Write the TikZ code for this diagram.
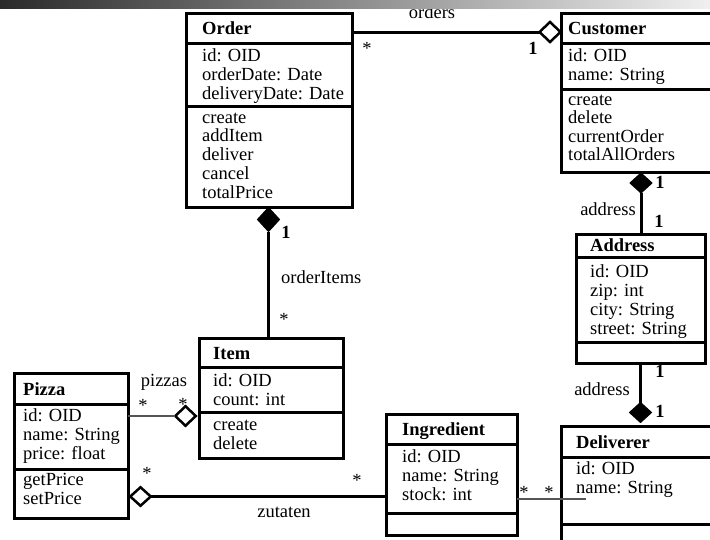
\documentclass[tikz,border=0pt]{standalone}
\usepackage{fontspec}
\setmainfont{Liberation Serif}
\usetikzlibrary{shapes.geometric}
\definecolor{bardark}{HTML}{2A2A2A}
\definecolor{barmid}{HTML}{A0A0A0}
\definecolor{barlight}{HTML}{F0F0F0}
\definecolor{weakline}{HTML}{555555}

\begin{document}
\begin{tikzpicture}[x=1pt,y=-1pt,
  classbox/.style={draw, line width=3pt, outer sep=0pt, inner sep=0pt, anchor=north west},
  sepline/.style={line width=3pt},
  assoc/.style={line width=3pt},
  weak/.style={line width=1.6pt, draw=weakline},
  txt/.style={font=\fontsize{18.5}{18.8}\selectfont, inner sep=0pt, anchor=base west},
  hdr/.style={txt, font=\fontsize{18.5}{18.8}\selectfont\bfseries},
  lbl/.style={font=\fontsize{18.5}{18.8}\selectfont, inner sep=0pt, anchor=base},
  one/.style={lbl, font=\fontsize{18.5}{18.8}\selectfont\bfseries},
  agg/.style={draw, diamond, inner sep=0pt, outer sep=0pt, line width=2.5pt, fill=white},
  comp/.style={draw, diamond, inner sep=0pt, outer sep=0pt, line width=1pt, fill=black},
]
\useasboundingbox (0,0) rectangle (710,539);
\clip (0,0) rectangle (710,539);

% ---------- Order ----------
\node[classbox, minimum width=166pt, minimum height=194pt] (order) at (186,13) {};
\draw[sepline] (186,43) -- (352,43);
\draw[sepline] (186,106) -- (352,106);
\node[hdr] (order-h) at (202,34.5) {Order};
\foreach \entry [count=\i from 0] in {id: OID, orderDate: Date, deliveryDate: Date}
  \node[txt] (order-a\i) at (202,{61+19*\i}) {\entry};
\foreach \entry [count=\i from 0] in {create, addItem, deliver, cancel, totalPrice}
  \node[txt] (order-m\i) at (202,{123+18.75*\i}) {\entry};

% ---------- Customer ----------
\node[classbox, minimum width=170pt, minimum height=159pt] (customer) at (561,13) {};
\draw[sepline] (561,43) -- (731,43);
\draw[sepline] (561,89) -- (731,89);
\node[hdr] (customer-h) at (568,34.5) {Customer};
\foreach \entry [count=\i from 0] in {id: OID, name: String}
  \node[txt] (customer-a\i) at (568,{61+19*\i}) {\entry};
\foreach \entry [count=\i from 0] in {create, delete, currentOrder, totalAllOrders}
  \node[txt] (customer-m\i) at (568,{105+18.6*\i}) {\entry};

% ---------- Address ----------
\node[classbox, minimum width=129pt, minimum height=129pt] (address) at (576,234) {};
\draw[sepline] (576,257) -- (705,257);
\draw[sepline] (576,342) -- (705,342);
\node[hdr] (address-h) at (590,251) {Address};
\foreach \entry [count=\i from 0] in {id: OID, zip: int, city: String, street: String}
  \node[txt] (address-a\i) at (590,{277+19*\i}) {\entry};

% ---------- Item ----------
\node[classbox, minimum width=144pt, minimum height=120pt] (item) at (199,338) {};
\draw[sepline] (199,367) -- (343,367);
\draw[sepline] (199,412) -- (343,412);
\node[hdr] (item-h) at (213,359) {Item};
\foreach \entry [count=\i from 0] in {id: OID, count: int}
  \node[txt] (item-a\i) at (213,{386+19*\i}) {\entry};
\foreach \entry [count=\i from 0] in {create, delete}
  \node[txt] (item-m\i) at (213,{430+19*\i}) {\entry};

% ---------- Pizza ----------
\node[classbox, minimum width=114pt, minimum height=145pt] (pizza) at (14,373) {};
\draw[sepline] (14,404) -- (128,404);
\draw[sepline] (14,469) -- (128,469);
\node[hdr] (pizza-h) at (23,395) {Pizza};
\foreach \entry [count=\i from 0] in {id: OID, name: String, price: float}
  \node[txt] (pizza-a\i) at (23,{421+19*\i}) {\entry};
\foreach \entry [count=\i from 0] in {getPrice, setPrice}
  \node[txt] (pizza-m\i) at (23,{485+19*\i}) {\entry};

% ---------- Ingredient ----------
\node[classbox, minimum width=131pt, minimum height=121pt] (ingredient) at (386,414) {};
\draw[sepline] (386,444) -- (517,444);
\draw[sepline] (386,513) -- (517,513);
\node[hdr] (ingredient-h) at (402,435.5) {Ingredient};
\foreach \entry [count=\i from 0] in {id: OID, name: String, stock: int}
  \node[txt] (ingredient-a\i) at (402,{462+19*\i}) {\entry};

% ---------- Deliverer ----------
\node[classbox, minimum width=170pt, minimum height=130pt] (deliverer) at (561,426) {};
\draw[sepline] (561,457) -- (731,457);
\draw[sepline] (561,524) -- (731,524);
\node[hdr] (deliverer-h) at (576,448) {Deliverer};
\foreach \entry [count=\i from 0] in {id: OID, name: String}
  \node[txt] (deliverer-a\i) at (576,{474+19*\i}) {\entry};

% ---------- association ends ----------
\node[agg, minimum width=21pt, minimum height=20pt] (ordersdia) at (550,32) {};
\node[comp, minimum width=22pt, minimum height=20pt] (custdia) at (641,183) {};
\node[comp, minimum width=22pt, minimum height=20pt] (deldia) at (640.5,412.5) {};
\node[comp, minimum width=22pt, minimum height=24pt] (orddia) at (268.5,219.5) {};
\node[agg, minimum width=20.5pt, minimum height=19.5pt] (pizzadia) at (185.5,416) {};
\node[agg, minimum width=20.5pt, minimum height=18.5pt] (zutdia) at (140.5,496.5) {};
\coordinate (ingend) at (586,499);

% ---------- associations ----------
\draw[assoc] (order.east |- ordersdia) -- (ordersdia.west);
\draw[assoc] (custdia.south) -- (address.north -| custdia);
\draw[assoc] (address.south -| deldia) -- (deldia.north);
\draw[assoc] (orddia.south) -- (item.north -| orddia);
\draw[weak] (pizza.east |- pizzadia) -- (pizzadia.west);
\draw[assoc] (zutdia.east) -- (ingredient.west |- zutdia);
\draw[weak] (ingredient.east |- ingend) -- (ingend);

% ---------- role names and multiplicities ----------
\node[lbl] (l-orders) at (432,18) {orders};
\node[lbl] (m-orders-a) at (367,54) {*};
\node[one] (m-orders-b) at (533,54) {1};

\node[one] (m-addr1-a) at (660,188) {1};
\node[lbl] (l-addr1) at (608,215) {address};
\node[one] (m-addr1-b) at (659,227) {1};

\node[one] (m-addr2-a) at (660,377) {1};
\node[lbl] (l-addr2) at (602,395) {address};
\node[one] (m-addr2-b) at (660,417) {1};

\node[one] (m-items-a) at (286,238) {1};
\node[txt] (l-items) at (281,283) {orderItems};
\node[lbl] (m-items-b) at (284,325) {*};

\node[lbl] (l-pizzas) at (164,386) {pizzas};
\node[lbl] (m-pizzas-a) at (143,411) {*};
\node[lbl] (m-pizzas-b) at (183,410) {*};

\node[lbl] (m-zut-a) at (147,479) {*};
\node[lbl] (m-zut-b) at (357,486) {*};
\node[lbl] (l-zut) at (284,517) {zutaten};

\node[lbl] (m-ing-a) at (524,498) {*};
\node[lbl] (m-ing-b) at (549,498) {*};

% ---------- title bar ----------
\shade[left color=bardark, middle color=barmid, right color=barlight] (0,0) rectangle (710,8);
\end{tikzpicture}
\end{document}
